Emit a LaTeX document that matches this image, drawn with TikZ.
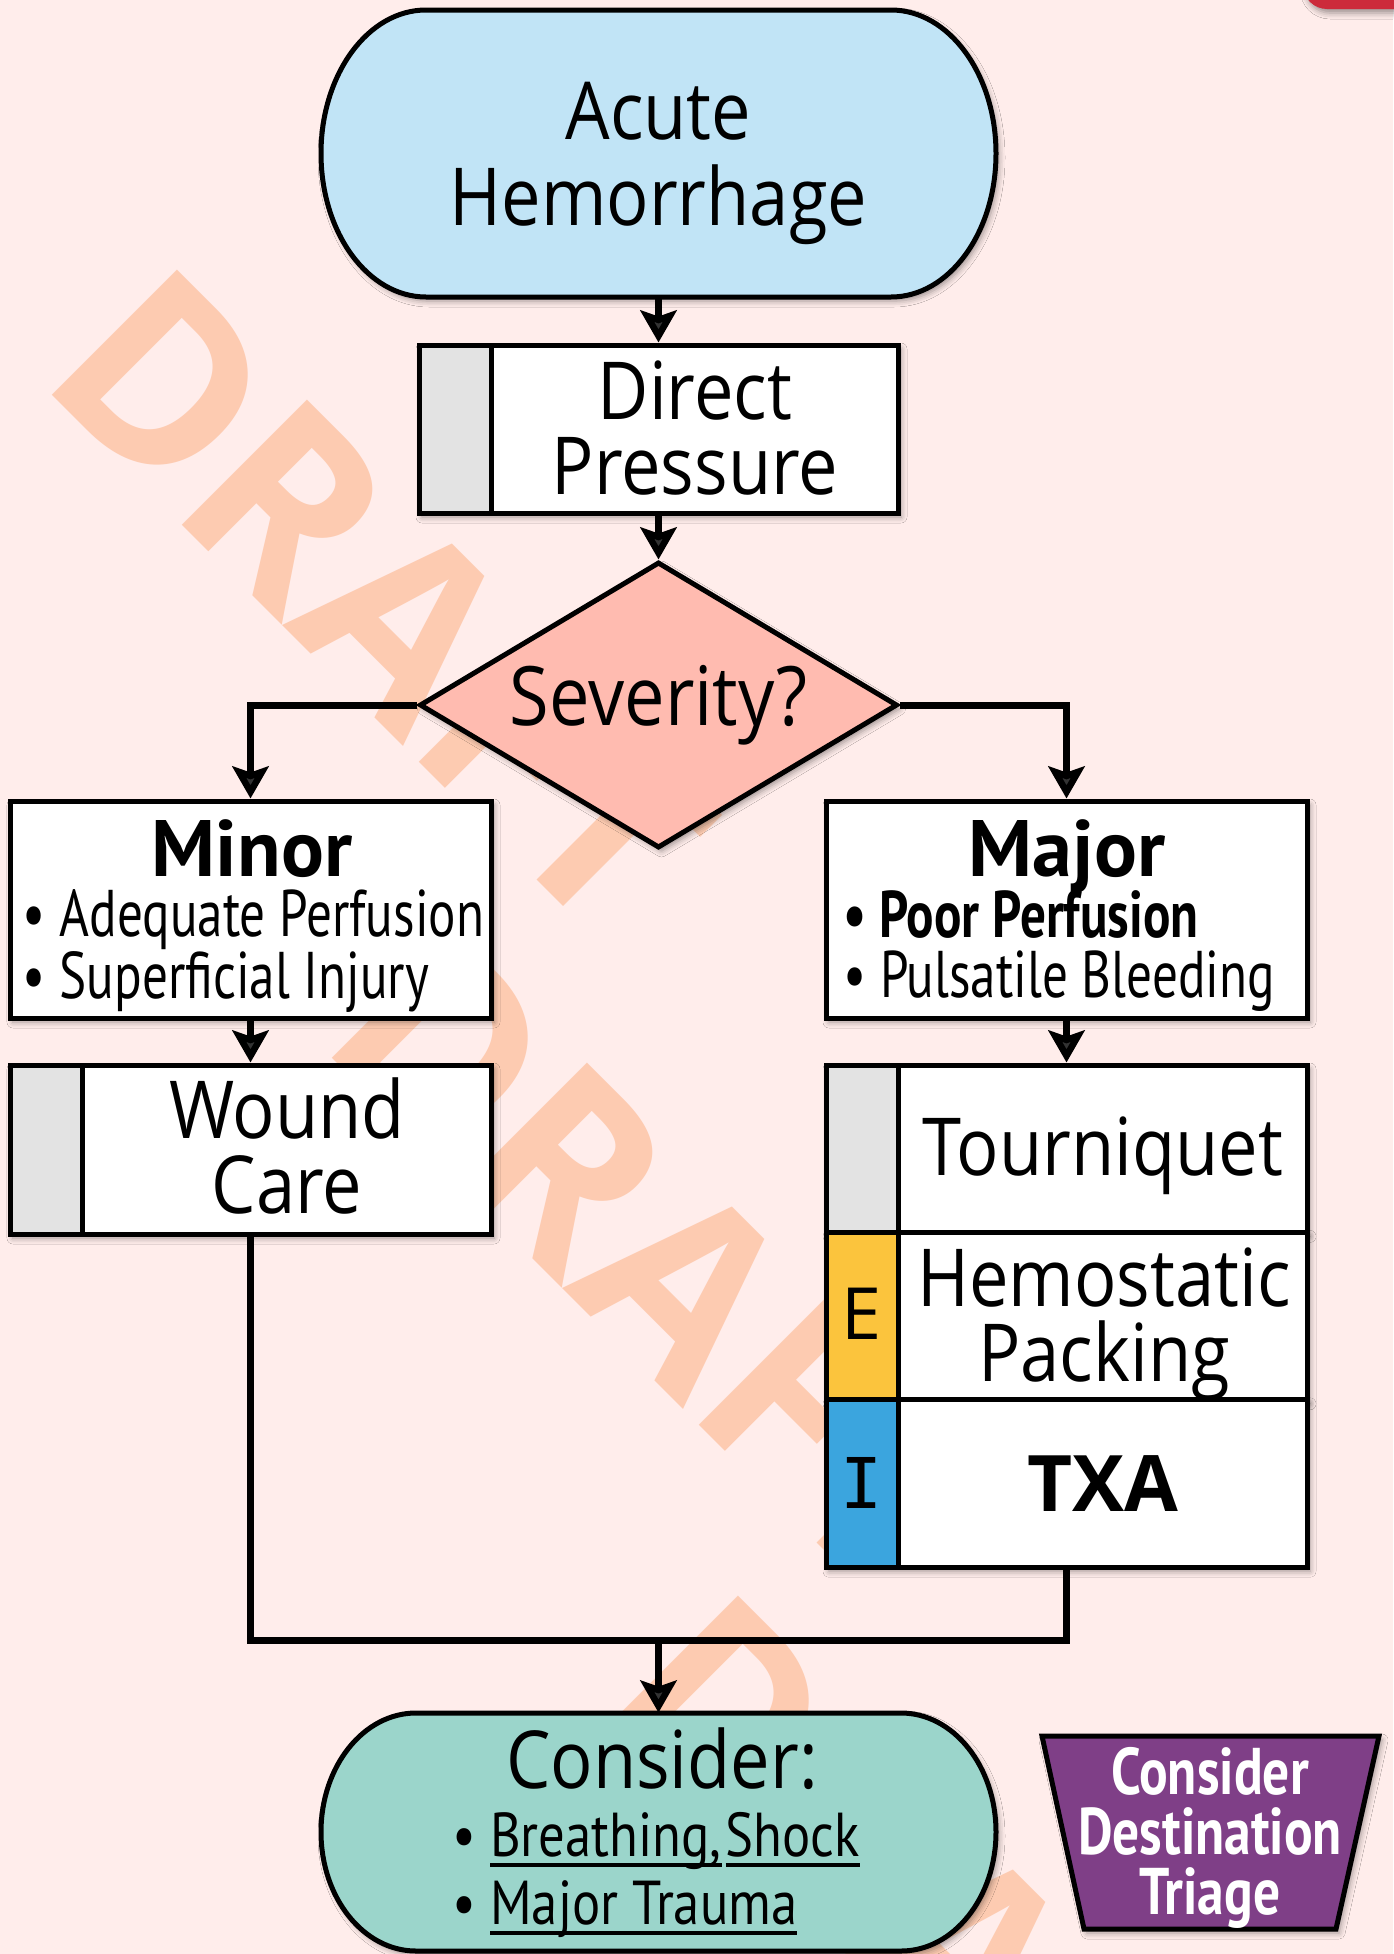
\documentclass[tikz,border=0pt]{standalone}
\usepackage{fontspec}
\setmainfont{Open Sans}
\newfontfamily\headfont[FakeStretch=0.88]{Open Sans}
\newfontfamily\titlefont{PT Sans}
\newfontfamily\listfont[FakeStretch=0.775]{PT Sans}
\newfontfamily\linkfont[FakeStretch=0.85]{PT Sans}
\newfontfamily\triagefont[FakeStretch=0.81]{PT Sans}
\newfontfamily\stripfont{DejaVu Sans Mono}
\usetikzlibrary{arrows.meta}
\usetikzlibrary{positioning}
\usetikzlibrary{shadows.blur}
\usetikzlibrary{shapes.geometric}

\definecolor{bgpink}{HTML}{FFEDEB}
\definecolor{draftorange}{HTML}{FDCBB1}
\definecolor{cornerred}{HTML}{CC2B3B}
\definecolor{startblue}{HTML}{C1E4F6}
\definecolor{severitypink}{HTML}{FFBBB0}
\definecolor{stripgray}{HTML}{E3E3E3}
\definecolor{eyellow}{HTML}{FBC43D}
\definecolor{iblue}{HTML}{3BA5DE}
\definecolor{considerteal}{HTML}{9BD5CB}
\definecolor{triagepurple}{HTML}{7F3F87}

\newcommand{\linkline}[1]{\setbox0\hbox{#1}\rlap{\rule[-5pt]{\wd0}{2pt}}\box0}

\tikzset{
  shadowed/.style={blur shadow={shadow xshift=1.5pt,shadow yshift=-2pt,shadow blur radius=3pt,shadow opacity=40}},
  box/.style={draw,line width=2.5pt,fill=white,inner sep=0pt,shadowed},
  stripbox/.style={box,path picture={
      \fill[#1] (path picture bounding box.north west) rectangle ([xshift=36pt]path picture bounding box.south west);
      \draw[line width=2.5pt] ([xshift=36pt]path picture bounding box.north west) -- ([xshift=36pt]path picture bounding box.south west);}},
  stadium/.style={draw,line width=2.5pt,shadowed},
  trapbox/.style={draw,line width=2.5pt,fill=triagepurple,shadowed},
  headtext/.style={inner sep=0pt,align=center,font=\headfont\fontsize{40}{37.5}\selectfont},
  titletext/.style={inner sep=0pt,font=\titlefont\bfseries\fontsize{40}{40}\selectfont},
  listtext/.style={inner sep=0pt,align=left,font=\listfont\fontsize{33}{30}\selectfont},
  watermark/.style={inner sep=0pt,text=draftorange,rotate=-45,font=\bfseries\fontsize{124}{124}\selectfont},
  flowline/.style={line width=3.5pt},
  flowarrow/.style={flowline,-{Stealth[length=16pt,width=18pt,inset=3pt]}}
}

\begin{document}
\begin{tikzpicture}[x=0.5pt,y=0.5pt,yscale=-1,xscale=1]
\useasboundingbox (0,0) rectangle (1393,1954);

%Background
\fill[bgpink] (0,0) rectangle (1393,1954);
%Watermark
\node[watermark] (draftA) at (382,599) {DRAFT};
\node[watermark] (draftB) at (662,1262) {DRAFT};
\node[watermark] (draftC) at (943,1925) {DRAFT};
%Corner tab
\fill[cornerred,rounded corners=12pt,shadowed] (1303,-60) rectangle (1460,9);

%Stadium: start
\draw[stadium,fill=startblue] (426,10) -- (891,10) arc[start angle=-90,end angle=90,x radius=105,y radius=143.5] -- (426,297) arc[start angle=90,end angle=270,x radius=105,y radius=143.5] -- cycle;
\node[minimum width=336.5pt,minimum height=143.5pt] (start) at (658.5,153.5) {};
\node[headtext,font=\headfont\fontsize{40}{43}\selectfont] (starttext) at (658.5,163) {Acute\\Hemorrhage};

%Process: direct pressure
\node[stripbox=stripgray,minimum width=239.5pt,minimum height=84pt] (direct) at (658.5,429) {};
\node[headtext] (directtext) at (695,428.5) {Direct\\Pressure};

%Decision
\node[diamond,aspect=1.67,draw,line width=2.5pt,fill=severitypink,shadowed,minimum width=239pt,minimum height=143pt,inner sep=0pt,font=\headfont\fontsize{41}{41}\selectfont] (severity) at (658.5,705) {Severity?};

%Minor branch
\node[box,minimum width=240.5pt,minimum height=108.5pt] (minor) at (250.5,909.5) {};
\node[titletext,anchor=base] (minortitle) at (252,876) {Minor};
\node[listtext] (minorlist) at (253.5,951) {\textbullet\ Adequate Perfusion\\\textbullet\ Superficial Injury};

\node[stripbox=stripgray,minimum width=240.5pt,minimum height=84.5pt] (wound) at (250.5,1149.5) {};
\node[headtext] (woundtext) at (287,1146) {Wound\\Care};

%Major branch
\node[box,minimum width=240.5pt,minimum height=108.5pt] (major) at (1066.5,909.5) {};
\node[titletext,anchor=base] (majortitle) at (1067,876) {Major};
\node[listtext] (majorlist) at (1059,951) {\textbf{\textbullet\ Poor Perfusion}\\\textbullet\ Pulsatile Bleeding};

\node[stripbox=stripgray,minimum width=240.5pt,minimum height=83.7pt] (tourniquet) at (1066.5,1148.7) {};
\node[stripbox=eyellow,minimum width=240.5pt,minimum height=83.7pt,below=-2.5pt of tourniquet] (packing) {};
\node[stripbox=iblue,minimum width=240.5pt,minimum height=83.7pt,below=-2.5pt of packing] (txa) {};
\node[headtext,anchor=base] (tourniquettext) at (1103,1175) {Tourniquet};
\node[headtext] (packingtext) at (1104,1324) {Hemostatic\\Packing};
\node[inner sep=0pt,anchor=base,font=\bfseries\fontsize{39}{39}\selectfont] (txatext) at (1103,1511) {TXA};
\node[inner sep=0pt,anchor=base,font=\fontsize{36}{36}\selectfont] (elabel) at (862,1339) {E};
\node[inner sep=0pt,anchor=base,font=\stripfont\fontsize{35}{35}\selectfont] (ilabel) at (862,1508) {I};

%Stadium: consider
\draw[stadium,fill=considerteal] (416,1713) -- (901,1713) arc[start angle=-90,end angle=90,x radius=95,y radius=119] -- (416,1951) arc[start angle=90,end angle=270,x radius=95,y radius=119] -- cycle;
\node[minimum width=336.5pt,minimum height=119pt] (consider) at (658.5,1832) {};
\node[headtext,font=\headfont\fontsize{40}{40}\selectfont,anchor=base] (considerhead) at (662,1788) {Consider:};
\node[listtext,font=\linkfont\fontsize{31}{34}\selectfont] (considerlist) at (656,1875) {\textbullet\ \linkline{Breathing,}\hspace{2pt}\linkline{Shock}\\\textbullet\ \linkline{Major Trauma}};

%Destination triage
\draw[trapbox] (1042,1736) -- (1379,1736) -- (1336,1929) -- (1084,1929) -- cycle;
\node[inner sep=0pt,align=center,text=white,font=\triagefont\bfseries\fontsize{33}{30}\selectfont] (triage) at (1210,1838) {Consider\\Destination\\Triage};

%Connectors
\draw[flowarrow] (start.south) -- (direct.north);
\draw[flowarrow] (direct.south) -- (severity.north);
\draw[flowarrow] (severity.west) -| (minor.north);
\draw[flowarrow] (severity.east) -| (major.north);
\draw[flowarrow] (minor.south) -- (wound.north);
\draw[flowarrow] (major.south) -- (tourniquet.north);
\coordinate (merge) at (658.5,1640);
\draw[flowline] (wound.south) |- (merge) -| (txa.south);
\draw[flowarrow] (merge) -- (consider.north);

\end{tikzpicture}
\end{document}
